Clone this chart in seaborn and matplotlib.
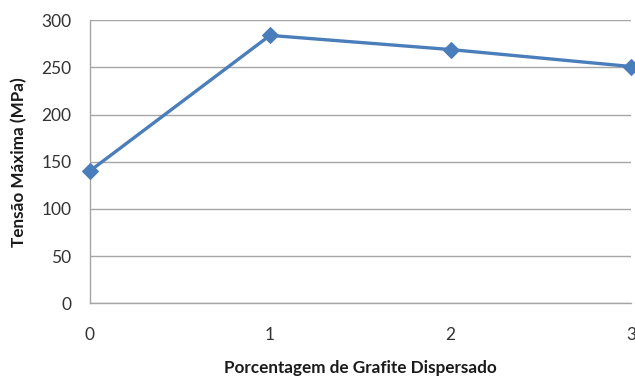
import matplotlib
matplotlib.use("Agg")
import matplotlib.pyplot as plt
import seaborn as sns
import pandas as pd

# Tensile strength vs. dispersed graphite content
grafite = [0, 1, 2, 3]
tensao = [140, 284, 269, 251]
y_ticks = [0, 50, 100, 150, 200, 250, 300]

df = pd.DataFrame({"grafite": grafite, "tensao": tensao})

sns.set_style("white")
plt.rcParams["font.family"] = ["Lato", "DejaVu Sans"]

fig = plt.figure(figsize=(6.35, 3.78), dpi=100)
ax = fig.add_axes([89.5 / 635, 1 - 303.3 / 378, (631 - 89.5) / 635, (303.3 - 20.3) / 378])

sns.lineplot(data=df, x="grafite", y="tensao", ax=ax, color="#4A7EBB",
             linewidth=2.4, marker="D", markersize=8, markeredgecolor="#4A7EBB",
             zorder=3, clip_on=False)

ax.set_xlim(0, 3)
ax.set_ylim(0, 300)
ax.set_xticks(grafite)
ax.set_yticks(y_ticks)
ax.yaxis.grid(True, color="#A6A6A6", linewidth=1.0)
ax.xaxis.grid(False)

for side in ["top", "right"]:
    ax.spines[side].set_visible(False)
for side in ["left", "bottom"]:
    ax.spines[side].set_color("#A6A6A6")
    ax.spines[side].set_linewidth(1.0)

ax.tick_params(axis="both", which="major", labelsize=12.5,
               length=5, width=1.0, direction="out")
ax.tick_params(axis="x", color="#A6A6A6", pad=12)
ax.tick_params(axis="y", color="#A6A6A6", pad=8)
for lab in ax.get_xticklabels() + ax.get_yticklabels():
    lab.set_color("#333333")

ax.set_xlabel("Porcentagem de Grafite Dispersado", fontsize=12.3, fontweight="bold",
              color="#1a1a1a", labelpad=12)
ax.set_ylabel("Tensão Máxima (MPa)", fontsize=12.3, fontweight="bold",
              color="#1a1a1a", labelpad=10)

fig.savefig("out.png", dpi=100)
